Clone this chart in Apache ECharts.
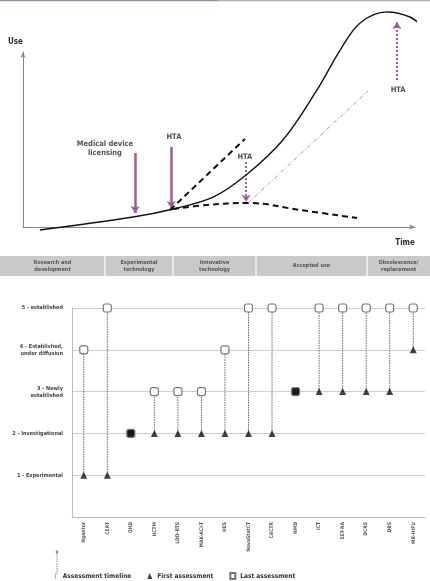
<!DOCTYPE html>
<html>
<head>
<meta charset="utf-8">
<script src="https://cdn.jsdelivr.net/npm/echarts@6/dist/echarts.min.js"></script>
<style>
  html, body { margin: 0; padding: 0; background: #fff; }
  #main { width: 430px; height: 581px; }
</style>
</head>
<body>
<div id="main"></div>
<script>
// ---- top diagram: diffusion of a technology over time (arbitrary units) ----
var diffusionCurve = [[4.3,-1.7],[28.1,5.7],[38.3,10.3],[48.5,17.1],[56.6,29.1],[66.3,49.7],[75,78.3],[80.9,101.1],[86,116.6],[92.9,122.9],[98.7,120],[102,114.3]];
var earlyUptake = [[37.5,9.7],[56.6,50.3]];
var earlyDecline = [[38.3,10.3],[47,12.6],[57.4,13.7],[70.7,9.7],[85.2,5.1]];
var laterUptake = [[57.4,13.7],[88,77.7]];
// arrows: [x, yFrom, yTo, dotted]
var htaArrows = [[28.6,42.3,8,false],[37.8,45.7,10.9,false],[56.9,37.1,14.5,true],[95.4,84,117,true]];
var arrowNotes = [[20.9,45.1,'Medical device\nlicensing'],[38.5,51.4,'HTA'],[56.6,40,'HTA'],[95.7,78.3,'HTA']];
var phases = ['Research and\ndevelopment','Experimental\ntechnology','Innovative\ntechnology','Accepted use','Obsolescence/\nreplacement'];

// ---- bottom chart: first vs last assessment level ----
var technologies = ['Ngentor','CERT','OHD','HCTM','LDD-RTS','MAK-ACI-T','HES','NovaStatCT','CACTR','NMD','ICT','EET-RA','DCRS','DBS','MR-HIFU'];
var firstLevel = [1,1,2,2,2,2,2,2,2,3,3,3,3,3,4];
var lastLevel  = [4,5,2,3,3,3,4,5,5,3,5,5,5,5,5];
var levelNames = ['', '1 - Experimental', '2 - Investigational', '3 - Newly\nestablished', '4 - Established,\nunder diffusion', '5 - established'];

var purple = '#a3589d';
var font = 'DejaVu Sans Condensed';

var chart = echarts.init(document.getElementById('main'));

var arrowData = htaArrows.map(function (a) {
  return { coords: [[a[0], a[1]], [a[0], a[2]]], lineStyle: { type: a[3] ? [2, 2] : 'solid', width: a[3] ? 2 : 2.5 } };
});

var timelineData = technologies.map(function (t, i) { return [i, firstLevel[i], lastLevel[i]]; });
var lastData = lastLevel.map(function (v, i) {
  var same = v === firstLevel[i];
  return { value: v, itemStyle: same ? { color: '#1a1a1a', borderColor: '#777' } : {} };
});

// phase band under the top diagram
var bandEdges = [0, 105, 173, 256, 367, 430];
var deco = [{ type: 'rect', shape: { x: 0, y: 256, width: 430, height: 20 }, style: { fill: '#c9c9c9' } }];
for (var i = 0; i < phases.length; i++) {
  if (i > 0) deco.push({ type: 'line', shape: { x1: bandEdges[i], y1: 256, x2: bandEdges[i], y2: 276 }, style: { stroke: '#fff', lineWidth: 1.2 } });
  deco.push({ type: 'text', x: (bandEdges[i] + bandEdges[i + 1]) / 2, y: 266,
    style: { text: phases[i], fill: '#555', font: 'bold 5.5px "' + font + '"', align: 'center', verticalAlign: 'middle', lineHeight: 7 } });
}
deco.push({ type: 'line', shape: { x1: 0, y1: 0.5, x2: 218, y2: 0.5 }, style: { stroke: '#9c86aa', lineWidth: 1.5 } });
deco.push({ type: 'line', shape: { x1: 218, y1: 0.5, x2: 430, y2: 0.5 }, style: { stroke: '#b0b0b0', lineWidth: 1.5 } });
// tall stem of the timeline legend key
deco.push({ type: 'line', shape: { x1: 57, y1: 553, x2: 57, y2: 574 }, style: { stroke: '#888', lineWidth: 1, lineDash: [1.5, 1] } });
deco.push({ type: 'circle', shape: { cx: 57, cy: 552, r: 1.4 }, style: { fill: '#888' } });

var option = {
  animation: false,
  backgroundColor: '#fff',
  textStyle: { fontFamily: font },
  graphic: deco,
  grid: [
    { left: 23, right: 15, top: 52, bottom: 354 },
    { left: 72, right: 5, top: 308, bottom: 64 }
  ],
  xAxis: [
    { gridIndex: 0, type: 'value', min: 0, max: 100, name: 'Time', nameLocation: 'end', nameGap: 0,
      nameTextStyle: { fontSize: 8, fontWeight: 'bold', color: '#333', align: 'right', verticalAlign: 'top', padding: [12, 0, 0, 0] },
      axisLine: { lineStyle: { color: '#888', width: 1 }, symbol: ['none', 'arrow'], symbolSize: [4, 6] },
      axisTick: { show: false }, axisLabel: { show: false }, splitLine: { show: false } },
    { gridIndex: 1, type: 'category', data: technologies,
      axisLine: { lineStyle: { color: '#bbb' } }, axisTick: { lineStyle: { color: '#ccc' } },
      axisLabel: { rotate: 90, fontSize: 5, color: '#555', fontWeight: 'bold', margin: 5, interval: 0 } }
  ],
  yAxis: [
    { gridIndex: 0, type: 'value', min: 0, max: 100, name: 'Use', nameLocation: 'end', nameGap: 6,
      nameTextStyle: { fontSize: 8, fontWeight: 'bold', color: '#333', align: 'right' },
      axisLine: { show: true, lineStyle: { color: '#888', width: 1 }, symbol: ['none', 'arrow'], symbolSize: [4, 6] },
      axisTick: { show: false }, axisLabel: { show: false }, splitLine: { show: false } },
    { gridIndex: 1, type: 'value', min: 0, max: 5, interval: 1,
      axisLine: { show: true, lineStyle: { color: '#bbb' } }, axisTick: { show: false },
      axisLabel: { fontSize: 5.5, color: '#444', fontWeight: 'bold', margin: 9, lineHeight: 7,
        formatter: function (v) { return levelNames[v] || ''; } },
      splitLine: { lineStyle: { color: '#cfcfcf', width: 1.2 } } }
  ],
  legend: {
    data: [{ name: 'Assessment timeline', icon: 'path://M0,0h1v10h-1z' }, { name: 'First assessment', icon: 'triangle' }, { name: 'Last assessment', icon: 'rect' }],
    left: 55, top: 572, padding: 0, selectedMode: false, itemWidth: 5, itemHeight: 6, itemGap: 16,
    textStyle: { fontSize: 6.5, color: '#333', fontWeight: 'bold' }
  },
  series: [
    { type: 'line', xAxisIndex: 0, yAxisIndex: 0, data: diffusionCurve, smooth: 0.35, showSymbol: false, clip: false,
      lineStyle: { color: '#111', width: 1.4 } },
    { type: 'line', xAxisIndex: 0, yAxisIndex: 0, data: earlyUptake, showSymbol: false, clip: false,
      lineStyle: { color: '#111', width: 2, type: [6, 4] } },
    { type: 'line', xAxisIndex: 0, yAxisIndex: 0, data: earlyDecline, smooth: 0.4, showSymbol: false, clip: false,
      lineStyle: { color: '#111', width: 2, type: [6, 4] } },
    { type: 'line', xAxisIndex: 0, yAxisIndex: 0, data: laterUptake, showSymbol: false, clip: false,
      lineStyle: { color: '#999', width: 1, type: [4, 2, 1, 2] } },
    { type: 'lines', coordinateSystem: 'cartesian2d', xAxisIndex: 0, yAxisIndex: 0, data: arrowData, clip: false,
      symbol: ['none', 'arrow'], symbolSize: 7, lineStyle: { color: purple, opacity: 1 } },
    { type: 'scatter', xAxisIndex: 0, yAxisIndex: 0, symbolSize: 0, clip: false,
      data: arrowNotes.map(function (n) { return { value: [n[0], n[1]], name: n[2] }; }),
      label: { show: true, position: 'inside', formatter: '{b}', fontSize: 7.5, fontWeight: 'bold', color: '#222', lineHeight: 9 } },

    { name: 'Assessment timeline', type: 'custom', xAxisIndex: 1, yAxisIndex: 1, data: timelineData,
      encode: { x: 0, y: [1, 2] }, itemStyle: { color: '#888' },
      renderItem: function (params, api) {
        var p1 = api.coord([api.value(0), api.value(1)]);
        var p2 = api.coord([api.value(0), api.value(2)]);
        return { type: 'line', shape: { x1: p1[0], y1: p1[1], x2: p2[0], y2: p2[1] },
          style: { stroke: '#666', lineWidth: 1, lineDash: [1.5, 1] } };
      } },
    { name: 'First assessment', type: 'scatter', xAxisIndex: 1, yAxisIndex: 1, data: firstLevel,
      symbol: 'triangle', symbolSize: 7, itemStyle: { color: '#111' } },
    { name: 'Last assessment', type: 'scatter', xAxisIndex: 1, yAxisIndex: 1, data: lastData,
      symbol: 'roundRect', symbolSize: 8, itemStyle: { color: '#fff', borderColor: '#777', borderWidth: 1.2, opacity: 1 } }
  ]
};

chart.setOption(option);
</script>
</body>
</html>
